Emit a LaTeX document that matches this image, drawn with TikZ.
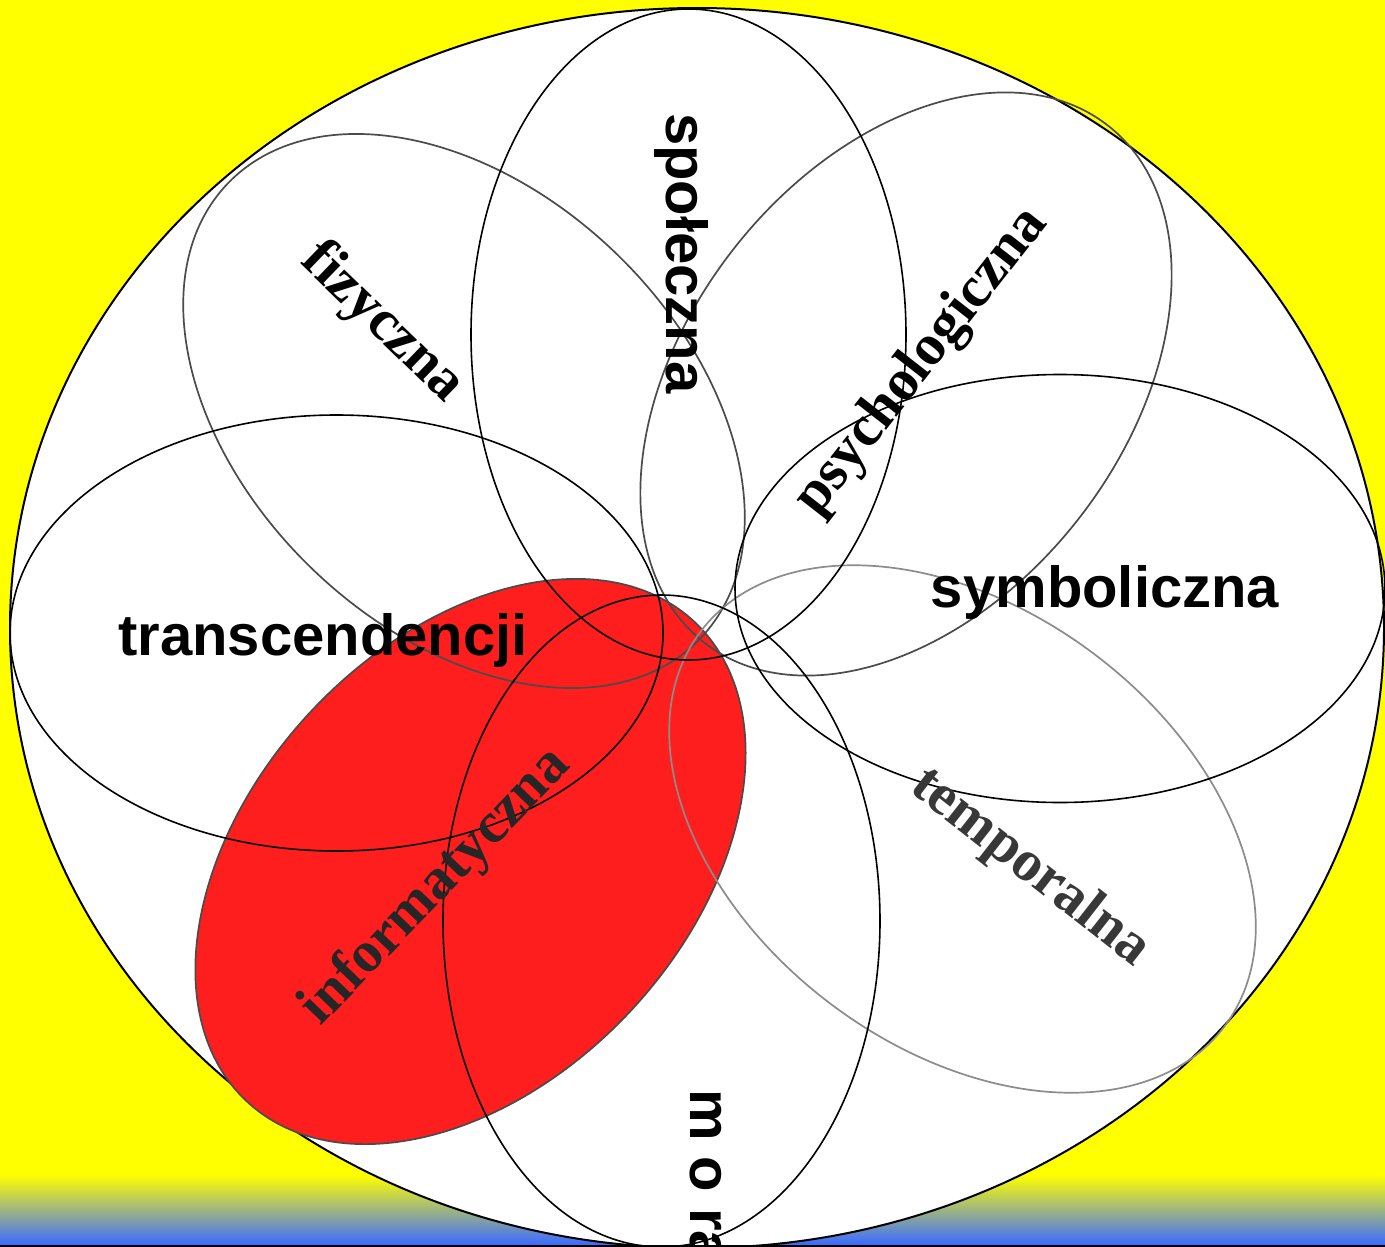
\documentclass[tikz,border=0pt]{standalone}
\usepackage{fontspec}
\setmainfont{Liberation Serif}
\newfontfamily\arialfont{Liberation Sans}
\definecolor{bgyellow}{RGB}{255,255,0}
\definecolor{bgblue}{RGB}{60,108,255}
\definecolor{petalred}{RGB}{255,30,30}
\definecolor{petalgray}{RGB}{75,75,75}
\tikzset{
  blackpetal/.style={draw=black, line width=1.6pt},
  graypetal/.style={draw=petalgray, line width=1.7pt},
  sanslbl/.style={inner sep=0pt, font=\arialfont\bfseries\fontsize{58}{60}\selectfont},
  seriflbl/.style={inner sep=0pt, font=\bfseries\fontsize{58}{60}\selectfont}
}
\begin{document}
\begin{tikzpicture}[x=1pt,y=-1pt]
\useasboundingbox (0,0) rectangle (1385,1247);
\clip (0,0) rectangle (1385,1247);
% background
\fill[bgyellow] (0,0) rectangle (1385,1247);
\shade[top color=bgyellow, bottom color=bgblue] (0,1175) rectangle (1385,1244);
\fill[bgblue] (0,1243) rectangle (1385,1245);
% big ellipse
\draw[fill=white, draw=black, line width=2pt] (697,628) ellipse [x radius=687pt, y radius=620pt];
% red petal
\fill[petalred, rotate around={47:(470.5,861.5)}] (470.5,861.5) ellipse [x radius=328pt, y radius=219pt];
\draw[graypetal, rotate around={47:(470.5,861.5)}] (470.5,861.5) ellipse [x radius=328pt, y radius=219pt];
% gray petals
\draw[graypetal, rotate around={-44:(464,411)}] (464,411) ellipse [x radius=328pt, y radius=219pt];
\draw[graypetal, rotate around={52:(906,384)}] (906,384) ellipse [x radius=328pt, y radius=219pt];
\draw[graypetal, draw=black!45, rotate around={-37:(962.5,829)}] (962.5,829) ellipse [x radius=328pt, y radius=219pt];
% black petals
\draw[blackpetal] (688.5,334.5) ellipse [x radius=217.5pt, y radius=325.5pt];
\draw[blackpetal] (336.5,633) ellipse [x radius=326.5pt, y radius=218pt];
\draw[blackpetal] (1060,588.5) ellipse [x radius=325pt, y radius=214pt];
\draw[blackpetal] (661.5,921) ellipse [x radius=218.5pt, y radius=326pt];
% bottom line
\draw[black, line width=1.5pt] (0,1246) -- (1385,1246);
% labels
\node[sanslbl, rotate=-90, anchor=base west] (spol) at (666,113) {społeczna};
\node[sanslbl, anchor=base] (symb) at (1105,607) {symboliczna};
\node[sanslbl, anchor=base] (trans) at (323,655) {transcendencji};
\node[sanslbl, rotate=-90, anchor=base west] (mora) at (690,1089) {m o ra};
\node[seriflbl, rotate=-44] (fiz) at (382,323) {fizyczna};
\node[seriflbl, rotate=52] (psych) at (922,362) {psychologiczna};
\node[seriflbl, rotate=-38, text=black!78] (temp) at (1030,868) {temporalna};
\node[seriflbl, rotate=46, text=black!85] (info) at (436,887) {informatyczna};
\end{tikzpicture}
\end{document}
